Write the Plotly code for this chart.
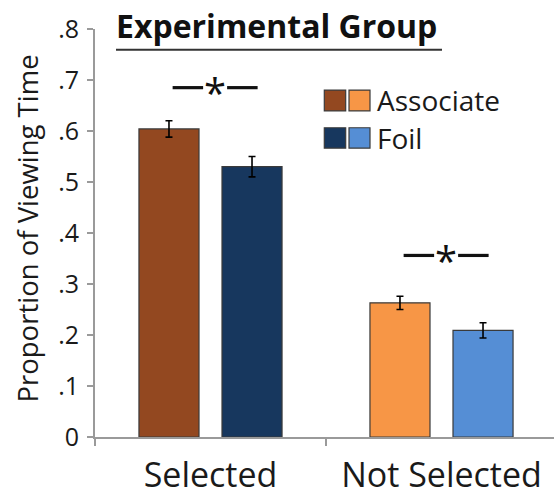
import plotly.graph_objects as go

# Proportion of viewing time, experimental group
categories = ["Selected", "Not Selected"]
associate_vals = [0.604, 0.263]
associate_err = [0.016, 0.013]
foil_vals = [0.530, 0.209]
foil_err = [0.020, 0.015]
y_ticks = [0, 0.1, 0.2, 0.3, 0.4, 0.5, 0.6, 0.7, 0.8]
y_tick_labels = ["0", ".1", ".2", ".3", ".4", ".5", ".6", ".7", ".8"]

assoc_colors = ["#934820", "#F79646"]
foil_colors = ["#17375E", "#558ED5"]
outline = "#3a3a3a"
axis_gray = "#9a9a9a"
text_color = "#1a1a1a"
font_family = "Open Sans, Noto Sans, sans-serif"

fig = go.Figure()
fig.add_trace(go.Bar(
    name="Associate", x=categories, y=associate_vals,
    marker=dict(color=assoc_colors, line=dict(color=outline, width=1.2)),
    error_y=dict(type="data", array=associate_err, color="black", thickness=1.6, width=3.5),
    showlegend=False,
))
fig.add_trace(go.Bar(
    name="Foil", x=categories, y=foil_vals,
    marker=dict(color=foil_colors, line=dict(color=outline, width=1.2)),
    error_y=dict(type="data", array=foil_err, color="black", thickness=1.6, width=3.5),
    showlegend=False,
))

W, H = 554, 497
L, R, T, B = 95, 0, 28.5, 57.5
pw, ph = W - L - R, H - T - B
x_range = [-0.5, 1.487]

def px_x(px):
    return (px - L) / pw

def px_y(py):
    return (H - B - py) / ph

fig.update_layout(
    width=W, height=H,
    margin=dict(l=L, r=R, t=T, b=B),
    paper_bgcolor="white", plot_bgcolor="white",
    barmode="group", bargap=0.281, bargroupgap=0.277,
    font=dict(family=font_family, color=text_color),
    showlegend=False,
)
fig.update_xaxes(
    type="category", range=x_range,
    tickson="boundaries", ticks="outside", ticklen=7, tickwidth=2, tickcolor=axis_gray,
    showline=True, linecolor=axis_gray, linewidth=2, showgrid=False, zeroline=False,
    tickfont=dict(size=34, color=text_color), ticklabelstandoff=7,
)
fig.update_yaxes(
    range=[0, 0.8], tickvals=y_ticks, ticktext=y_tick_labels,
    ticks="outside", ticklen=6, tickwidth=2, tickcolor=axis_gray,
    showline=True, linecolor=axis_gray, linewidth=2, showgrid=False, zeroline=False,
    tickfont=dict(size=25, color=text_color), ticklabelstandoff=3,
)

# Y axis title
fig.add_annotation(
    text="Proportion of Viewing Time", xref="paper", yref="paper",
    x=px_x(27.5), y=px_y(230), xanchor="center", yanchor="middle", textangle=-90,
    showarrow=False, font=dict(size=27.5, color=text_color),
)

# Title with underline
fig.add_annotation(
    text="<b>Experimental Group</b>", xref="paper", yref="paper",
    x=px_x(276.7), y=px_y(25), xanchor="center", yanchor="middle",
    showarrow=False, font=dict(size=32, color="#111111"),
)
fig.add_shape(type="line", xref="paper", yref="paper",
              x0=px_x(116), x1=px_x(442), y0=px_y(49.5), y1=px_y(49.5),
              line=dict(color="#333333", width=2))

# Legend: dark/light swatch pairs
legend_rows = [("Associate", assoc_colors, 90, 111), ("Foil", foil_colors, 128, 148.5)]
for label, cols, top, bot in legend_rows:
    for (x0, x1), c in zip([(324.3, 345.7), (349, 370)], cols):
        fig.add_shape(type="rect", xref="paper", yref="paper",
                      x0=px_x(x0), x1=px_x(x1), y0=px_y(bot), y1=px_y(top),
                      fillcolor=c, line=dict(color=outline, width=1.2))
    fig.add_annotation(text=label, xref="paper", yref="paper",
                       x=px_x(375), y=px_y((top + bot) / 2), xanchor="left", yanchor="middle",
                       showarrow=False, font=dict(size=28, color=text_color))

# Significance markers above each pair
sig_y = [0.685, 0.356]
px_per_unit = pw / (x_range[1] - x_range[0])
for i, yv in enumerate(sig_y):
    cx = i + 0.02
    half_gap = 12 / px_per_unit
    half_len = 42.5 / px_per_unit
    for xa, xb in [(cx - half_len, cx - half_gap), (cx + half_gap, cx + half_len)]:
        fig.add_shape(type="line", xref="x", yref="y", x0=xa, x1=xb, y0=yv, y1=yv,
                      line=dict(color="#111111", width=3.2))
    fig.add_annotation(text="*", xref="x", yref="y", x=cx, y=yv, xanchor="center",
                       yanchor="middle", yshift=-5, showarrow=False,
                       font=dict(size=40, color="#111111"))

fig.write_html("out.html")
